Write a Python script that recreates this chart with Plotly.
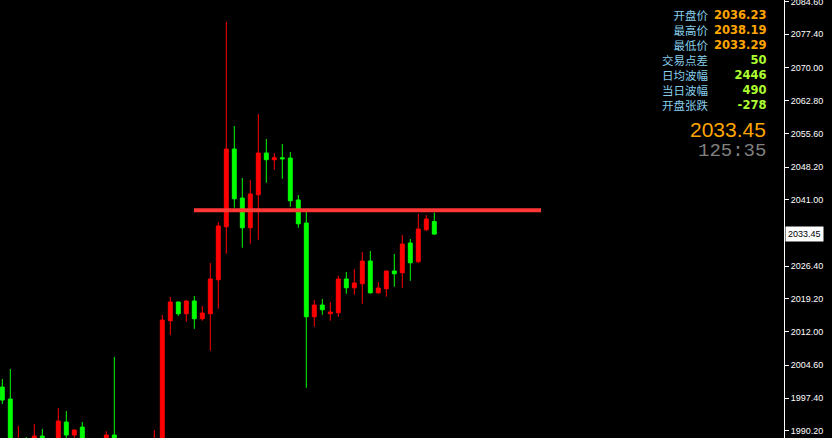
import plotly.graph_objects as go

# ---- data ----
idx = list(range(55))
opens = [1999.81, 1997.17, 1984.0, 1987.0, 1986.0, 1989.03, 1984.0, 1986.0, 1992.11, 1989.25,
         1991.0, 1987.0, 1985.0, 1986.5, 1989.25, 1986.0, 1984.0, 1985.5, 1984.5, 1985.0,
         1987.0, 2014.39, 2018.51, 2015.93, 2018.73, 2014.83, 2015.93, 2023.41, 2035.07, 2052.17,
         2041.39, 2034.85, 2042.11, 2051.29, 2049.81, 2050.25, 2050.19, 2040.95, 2035.89, 2015.27,
         2017.85, 2015.93, 2016.15, 2023.57, 2021.65, 2022.53, 2027.53, 2020.55, 2021.43, 2025.33,
         2024.95, 2031.49, 2027.37, 2034.41, 2036.23]
highs = [2001.57, 2003.77, 1991.3, 1988.8, 1991.67, 1990.57, 1988.0, 1995.19, 1994.53, 1990.45,
         1992.11, 1988.0, 1987.5, 1990.1, 2006.41, 1987.5, 1987.0, 1987.0, 1987.5, 1990.35,
         2015.63, 2019.61, 2018.6, 2018.95, 2019.83, 2017.63, 2027.09, 2036.11, 2080.11, 2057.23,
         2045.79, 2045.35, 2059.87, 2054.37, 2051.29, 2053.27, 2051.51, 2042.05, 2038.31, 2018.95,
         2019.17, 2018.51, 2024.23, 2025.11, 2025.77, 2029.51, 2029.73, 2022.91, 2025.4, 2029.07,
         2033.25, 2032.37, 2037.87, 2037.65, 2038.19]
lows = [1996.07, 1983.0, 1982.0, 1983.0, 1985.0, 1985.5, 1983.0, 1985.0, 1988.0, 1988.0,
        1986.5, 1984.0, 1984.0, 1985.5, 1985.0, 1983.0, 1982.5, 1983.0, 1983.5, 1984.0,
        1986.0, 2011.25, 2015.49, 2014.17, 2012.63, 2014.39, 2007.79, 2017.03, 2029.13, 2039.25,
        2030.45, 2031.33, 2032.21, 2044.75, 2047.61, 2045.63, 2039.47, 2034.85, 1999.65, 2013.07,
        2015.71, 2014.39, 2015.27, 2020.33, 2020.11, 2018.13, 2020.33, 2020.33, 2019.67, 2021.87,
        2021.65, 2023.19, 2027.15, 2034.19, 2033.29]
closes = [1996.95, 1985.0, 1987.0, 1985.0, 1989.03, 1986.5, 1986.5, 1992.33, 1989.25, 1990.35,
          1987.5, 1985.0, 1986.5, 1989.25, 1986.0, 1984.0, 1985.5, 1984.5, 1986.0, 1987.5,
          2014.53, 2018.51, 2015.93, 2018.73, 2014.83, 2016.09, 2023.57, 2035.23, 2052.17, 2041.23,
          2034.85, 2042.27, 2051.29, 2049.81, 2050.25, 2050.03, 2040.79, 2035.73, 2015.27, 2017.85,
          2016.81, 2016.31, 2023.57, 2021.65, 2022.69, 2027.53, 2020.55, 2021.59, 2025.33, 2024.73,
          2031.27, 2027.15, 2034.57, 2036.77, 2033.45]

tick_vals = [2084.60, 2077.40, 2070.00, 2062.80, 2055.60, 2048.20, 2041.00,
             2026.40, 2019.20, 2012.00, 2004.60, 1997.40, 1990.20]

level_price = 2038.7
level_start = 23.96
level_end = 67.34

current_price = "2033.45"
timer_text = "125:35"

info_labels = ["开盘价", "最高价", "最低价", "交易点差", "日均波幅", "当日波幅", "开盘张跌"]
info_values = ["2036.23", "2038.19", "2033.29", "50", "2446", "490", "-278"]
info_colors = ["#FFA500", "#FFA500", "#FFA500", "#ADFF2F", "#ADFF2F", "#ADFF2F", "#ADFF2F"]

# ---- figure ----
fig = go.Figure()
fig.add_trace(go.Candlestick(
    x=idx, open=opens, high=highs, low=lows, close=closes,
    increasing=dict(line=dict(color="#FF0000", width=1), fillcolor="#FF0000"),
    decreasing=dict(line=dict(color="#00FF00", width=1), fillcolor="#00FF00"),
    whiskerwidth=0, showlegend=False, hoverinfo="skip",
))
fig.add_trace(go.Scatter(
    x=[level_start, level_end], y=[level_price, level_price], mode="lines",
    line=dict(color="rgb(255,55,55)", width=4), showlegend=False, hoverinfo="skip",
))

W_PLOT = 784.0
H = 438.0

label_block = "<br>".join(info_labels)
value_block = "<br>".join(
    f"<span style='color:{c}'><b>{v}</b></span>" for v, c in zip(info_values, info_colors))

annotations = [
    dict(xref="paper", yref="paper", x=711 / W_PLOT, y=1 - 59.5 / H,
         xanchor="right", yanchor="middle", align="right", showarrow=False,
         text=label_block,
         font=dict(family="Noto Sans CJK SC", size=11.5, color="#87CEEB")),
    dict(xref="paper", yref="paper", x=768 / W_PLOT, y=1 - 59.5 / H,
         xanchor="right", yanchor="middle", align="right", showarrow=False,
         text=value_block,
         font=dict(family="DejaVu Sans", size=11.5, color="#FFA500")),
    dict(xref="paper", yref="paper", x=768 / W_PLOT, y=1 - 130 / H,
         xanchor="right", yanchor="middle", showarrow=False, text=current_price,
         font=dict(family="Liberation Sans", size=21, color="#FFA500")),
    dict(xref="paper", yref="paper", x=768 / W_PLOT, y=1 - 151 / H,
         xanchor="right", yanchor="middle", showarrow=False, text=timer_text,
         font=dict(family="Liberation Mono", size=19, color="#808080")),
    dict(xref="paper", yref="y", x=1, y=float(current_price), xshift=1,
         xanchor="left", yanchor="middle", showarrow=False, text=current_price,
         bgcolor="#FFFFFF", borderpad=2,
         font=dict(family="Liberation Sans", size=9, color="#000000")),
]

fig.update_layout(
    width=832, height=438,
    margin=dict(l=0, r=48, t=0, b=0),
    paper_bgcolor="#000000", plot_bgcolor="#000000",
    annotations=annotations,
    xaxis=dict(visible=False, range=[-0.2875, 97.7125], rangeslider=dict(visible=False),
               fixedrange=True),
    yaxis=dict(side="right", range=[1988.6, 2084.95], showgrid=False, zeroline=False,
               tickvals=tick_vals, tickformat=".2f", ticks="outside", ticklen=4,
               tickcolor="#FFFFFF", showline=True, linecolor="#FFFFFF", linewidth=1,
               automargin=False, fixedrange=True, ticklabeloverflow="allow",
               tickfont=dict(family="Liberation Sans", size=9, color="#FFFFFF")),
)

fig.write_html("out.html",
               config={"displayModeBar": False, "staticPlot": True},
               post_script="document.body.style.margin='0';document.body.style.background='#000';")
